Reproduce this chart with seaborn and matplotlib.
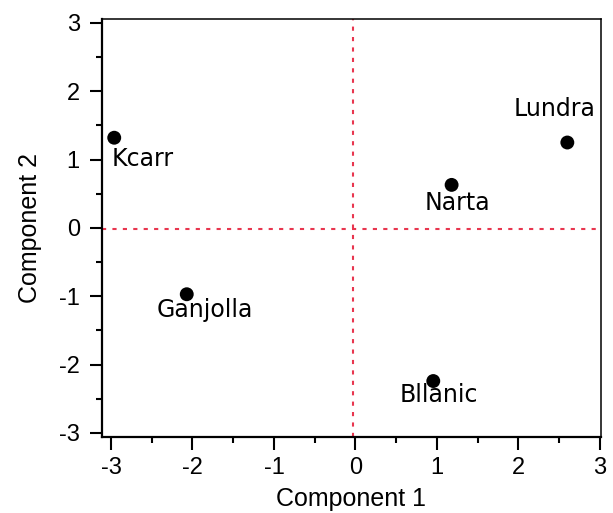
import numpy as np
import pandas as pd
import matplotlib
matplotlib.use("Agg")
import matplotlib.pyplot as plt
from matplotlib.ticker import MultipleLocator
import seaborn as sns

# PCA scores
names = ["Kcarr", "Ganjolla", "Narta", "Lundra", "Bllanic"]
comp1 = [-2.96, -2.07, 1.18, 2.60, 0.955]
comp2 = [1.32, -0.97, 0.63, 1.25, -2.24]
# label offsets in points (dx, dy)
label_dx = [-2, 13, 4, -9, 4]
label_dy = [-15, -11, -13, 24, -10]
label_ha = ["left", "center", "center", "center", "center"]

sns.set_style("white")
plt.rcParams["font.family"] = ["Liberation Sans", "DejaVu Sans"]
plt.rcParams["axes.unicode_minus"] = False
plt.rcParams["text.color"] = "black"
plt.rcParams["axes.labelcolor"] = "black"
plt.rcParams["xtick.color"] = "black"
plt.rcParams["ytick.color"] = "black"

df = pd.DataFrame({"name": names, "pc1": comp1, "pc2": comp2})

fig = plt.figure(figsize=(6.13, 5.13), dpi=100)
ax = fig.add_axes([0.1664, 0.148, 0.8136, 0.814])

# dotted reference lines through the origin
ax.axvline(-0.035, color="#e8364f", lw=1.5, ls=(0, (2, 3)), zorder=1)
ax.axhline(-0.02, color="#e8364f", lw=1.5, ls=(0, (2, 3)), zorder=1)

sns.scatterplot(data=df, x="pc1", y="pc2", ax=ax, color="black", s=100,
                edgecolor="none", zorder=3)

for n, x, y, dx, dy, ha in zip(names, comp1, comp2, label_dx, label_dy, label_ha):
    ax.annotate(n, (x, y), xytext=(dx, dy), textcoords="offset points",
                ha=ha, va="center", fontsize=17, color="black",
                family="DejaVu Sans", zorder=2)

ax.set_xlim(-3.11, 3.01)
ax.set_ylim(-3.06, 3.05)
ax.xaxis.set_major_locator(MultipleLocator(1))
ax.xaxis.set_minor_locator(MultipleLocator(0.5))
ax.yaxis.set_major_locator(MultipleLocator(1))
ax.yaxis.set_minor_locator(MultipleLocator(0.5))
ax.tick_params(which="major", direction="out", length=9, width=1.5,
               labelsize=17, left=True, bottom=True, pad=5)
ax.tick_params(which="minor", direction="out", length=4.5, width=1.5,
               left=True, bottom=True)
ax.tick_params(axis="y", which="major", pad=7)
for side in ["left", "bottom"]:
    ax.spines[side].set_linewidth(1.6)
for side in ["top", "right"]:
    ax.spines[side].set_linewidth(1.1)
for s in ax.spines.values():
    s.set_color("black")

ax.set_xlabel("Component 1", fontsize=18, labelpad=6)
ax.set_ylabel("Component 2", fontsize=18, labelpad=12)

fig.savefig("out.png", dpi=100)
